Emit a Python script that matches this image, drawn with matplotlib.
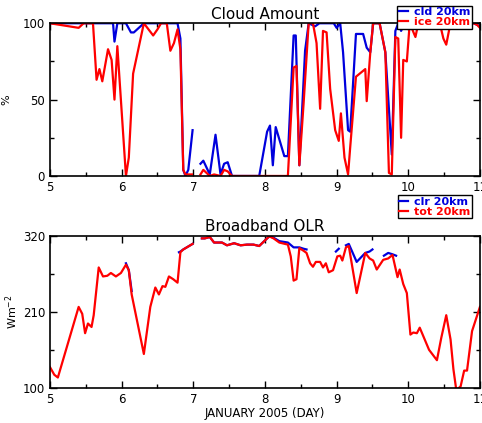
import numpy as np
import matplotlib
matplotlib.use("Agg")
import matplotlib.pyplot as plt

nan = np.nan

# cloud amount, ice 20km (red)
ice_day = [5.00, 5.40, 5.47, 5.60, 5.65, 5.69, 5.73, 5.81, 5.86, 5.90, 5.94, 6.06, 6.10,
           6.16, 6.31, 6.44, 6.50, 6.55, 6.63, 6.68, 6.73, 6.78, 6.82, 6.86, 6.89, 6.98,
           7.04,
           7.10, 7.14, 7.23, 7.29, 7.38, 7.43, 7.48, 7.54, 8.32, 8.40, 8.44, 8.48, 8.54,
           8.61, 8.67, 8.72, 8.77, 8.81, 8.86, 8.91, 8.98, 9.03, 9.06, 9.11, 9.16, 9.19,
           9.27, 9.40, 9.42, 9.47, 9.51, 9.60, 9.68, 9.73, 9.77, 9.82, 9.86, 9.90, 9.93,
           9.98, 10.02, 10.10, 10.14, 10.44, 10.49, 10.53, 10.58, 10.63, 10.91, 10.96, 11.0]
ice_pct = [100, 97, 100, 100, 63, 70, 62, 83, 76, 50, 85, 0, 12,
           67, 100, 92, 96, 100, 100, 82, 87, 96, 83, 4, 1, 1,
           nan,
           1, 4, 0, 1, 0, 4, 3, 0, 0, 71, 72, 7, 48,
           100, 100, 87, 44, 95, 94, 57, 30, 23, 41, 12, 1, 19,
           65, 70, 49, 81, 100, 100, 81, 2, 1, 91, 90, 25, 76,
           75, 100, 91, 100, 100, 90, 86, 98, 100, 100, 99, 97]

# cloud amount, cld 20km (blue)
cld_day = [5.00, 5.40, 5.88, 5.90, 5.94, 6.06, 6.13, 6.17, 6.31, 6.78, 6.82, 6.86, 6.89,
           6.93, 6.99,
           7.04,
           7.10, 7.14, 7.23, 7.31, 7.38, 7.43, 7.48, 7.54, 7.92, 8.03, 8.07, 8.11, 8.15,
           8.27, 8.32, 8.40, 8.43, 8.48, 8.56, 8.61, 8.70, 8.76, 8.96, 9.00, 9.05, 9.09,
           9.16, 9.19, 9.27, 9.37, 9.42, 9.47, 9.51, 9.60, 9.68, 9.77, 9.82, 9.86, 9.90,
           9.95, 10.50, 10.53, 10.56, 10.91, 10.96, 11.0]
cld_pct = [100, 100, 100, 88, 100, 100, 94, 94, 100, 100, 90, 4, 0,
           4, 30,
           nan,
           8, 10, 1, 27, 1, 8, 9, 0, 0, 29, 33, 7, 32,
           13, 13, 92, 92, 7, 82, 100, 98, 100, 100, 97, 100, 81,
           30, 29, 93, 93, 84, 81, 100, 100, 81, 14, 95, 100, 95,
           100, 100, 98, 100, 100, 99, 98]

# broadband OLR, tot 20km (red)
tot_day = [5.00, 5.06, 5.11, 5.40, 5.45, 5.49, 5.53, 5.58, 5.61, 5.68, 5.74, 5.80, 5.85,
           5.92, 5.99, 6.06, 6.10, 6.14, 6.31, 6.40, 6.47, 6.52, 6.57, 6.61, 6.66, 6.72,
           6.78, 6.82, 6.86, 6.99,
           7.05,
           7.12, 7.16, 7.23, 7.29, 7.40, 7.47, 7.57, 7.66, 7.75, 7.84, 7.92, 7.99, 8.06,
           8.12, 8.20, 8.32, 8.36, 8.40, 8.44, 8.48, 8.54, 8.58, 8.63, 8.67, 8.71, 8.77,
           8.81, 8.85, 8.89, 8.95, 9.01, 9.05, 9.08, 9.13, 9.17, 9.28, 9.40, 9.46, 9.51,
           9.56, 9.65, 9.72, 9.78, 9.85, 9.88, 9.93, 9.98, 10.03, 10.07, 10.12, 10.16,
           10.29, 10.40, 10.46, 10.53, 10.59, 10.63, 10.67, 10.73, 10.78, 10.82, 10.89, 11.0]
tot_olr = [130, 119, 115, 217, 207, 179, 193, 188, 205, 274, 261, 262, 266,
           261, 266, 278, 270, 235, 149, 217, 245, 235, 247, 246, 261, 257,
           252, 296, 300, 308,
           nan,
           316, 316, 318, 310, 310, 306, 309, 306, 307, 307, 305, 312, 319,
           316, 310, 307, 290, 255, 257, 302, 298, 295, 280, 275, 282, 282,
           274, 280, 267, 270, 290, 291, 284, 303, 305, 237, 295, 287, 284,
           271, 285, 287, 292, 260, 271, 250, 237, 177, 180, 179, 187,
           155, 140, 172, 205, 170, 127, 97, 102, 125, 125, 182, 217]

# broadband OLR, clr 20km (blue)
clr_day = [6.06, 6.10, 6.14, 6.17,
           6.80, 6.82, 6.86, 6.99, 7.05,
           7.12, 7.16, 7.23, 7.29, 7.40, 7.47, 7.57, 7.66, 7.75, 7.84, 7.92, 7.99, 8.06,
           8.12, 8.20, 8.32, 8.40, 8.48, 8.54, 8.58, 8.62,
           8.99, 9.03, 9.06,
           9.13, 9.17, 9.28, 9.40, 9.46, 9.50, 9.53,
           9.66, 9.72, 9.78, 9.83]
clr_olr = [280, 270, 240, nan,
           296, 297, 300, 308, nan,
           316, 316, 318, 310, 310, 306, 309, 306, 307, 307, 305, 312, 319,
           317, 312, 310, 303, 303, 301, 300, nan,
           297, 301, nan,
           306, 308, 282, 295, 297, 300, nan,
           291, 295, 293, 291]

fig = plt.figure(figsize=(4.82, 4.23), dpi=100)
ax1 = fig.add_axes([0.1037, 0.584, 0.892, 0.361])
ax2 = fig.add_axes([0.1037, 0.083, 0.892, 0.360])

lw = 1.6
ax1.plot(cld_day, cld_pct, color='#0000dd', lw=lw, label='cld 20km')
ax1.plot(ice_day, ice_pct, color='#ff0000', lw=lw, label='ice 20km')
ax2.plot(clr_day, clr_olr, color='#0000dd', lw=lw, label='clr 20km')
ax2.plot(tot_day, tot_olr, color='#ff0000', lw=lw, label='tot 20km')

for ax in (ax1, ax2):
    ax.set_xlim(5, 11)
    ax.set_xticks([5, 6, 7, 8, 9, 10, 11])
    ax.set_xticks(np.arange(5.5, 11, 1.0), minor=True)
    ax.tick_params(which='both', direction='in', top=True, right=True, labelsize=8.5)
    ax.tick_params(which='major', length=5, width=1)
    ax.tick_params(which='minor', length=3, width=1)
    for s in ax.spines.values():
        s.set_linewidth(1.2)

ax1.set_ylim(0, 100)
ax1.set_yticks([0, 50, 100])
ax1.set_yticks([25, 75], minor=True)
ax1.set_ylabel('%', fontsize=8, labelpad=8)
ax1.set_title('Cloud Amount', fontsize=11, pad=3)

ax2.set_ylim(100, 320)
ax2.set_yticks([100, 210, 320])
ax2.set_yticks([155, 265], minor=True)
ax2.set_ylabel('Wm$^{-2}$', fontsize=8, labelpad=2)
ax2.set_title('Broadband OLR', fontsize=11, pad=3)
ax2.set_xlabel('JANUARY 2005 (DAY)', fontsize=8.5, labelpad=1)

for ax, y in ((ax1, 1.0), (ax2, 0.552)):
    leg = ax.legend(loc='upper right', bbox_to_anchor=(0.99, y), bbox_transform=fig.transFigure,
                    fontsize=8, handlelength=0.8, handletextpad=0.5, borderpad=0.15,
                    labelspacing=0.0, frameon=True, fancybox=False, framealpha=1,
                    prop={'weight': 'bold', 'size': 8})
    leg.get_frame().set_edgecolor('black')
    leg.get_frame().set_linewidth(1.0)
    for txt, line in zip(leg.get_texts(), leg.get_lines()):
        txt.set_color(line.get_color())

fig.savefig('out.png', dpi=100)
